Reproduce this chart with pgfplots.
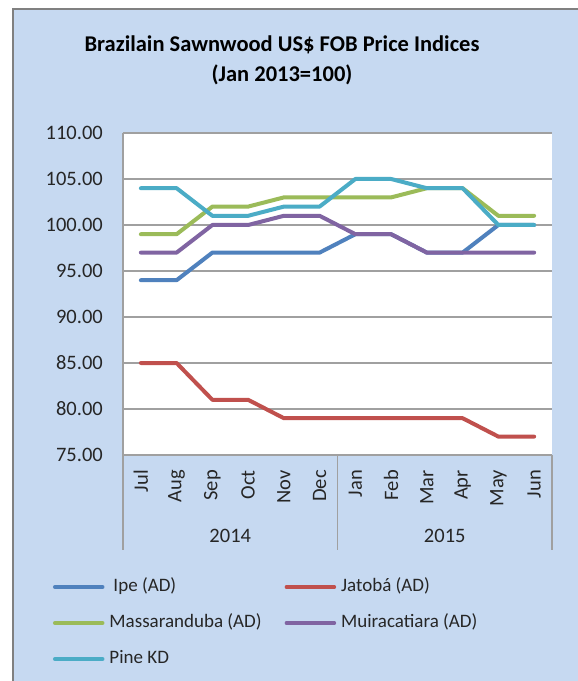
\documentclass[border=0pt]{standalone}
\usepackage{fontspec}
\setmainfont{Carlito}
\usepackage{pgfplots}
\pgfplotsset{compat=1.18}
\definecolor{bgblue}{RGB}{198,217,241}
\definecolor{ipe}{RGB}{79,129,189}
\definecolor{jatoba}{RGB}{192,80,77}
\definecolor{massa}{RGB}{155,187,89}
\definecolor{muira}{RGB}{128,100,162}
\definecolor{pine}{RGB}{75,172,198}
\definecolor{gridgray}{RGB}{160,160,160}
\definecolor{framegray}{RGB}{128,128,128}
\begin{document}
\begin{tikzpicture}[x=1pt,y=1pt]
\useasboundingbox (0,0) rectangle (578,681);
\fill[white] (0,0) rectangle (578,681);
\fill[bgblue] (13,0) rectangle (578,672);
\draw[framegray, line width=2pt] (13,0) -- (13,672) -- (578,672);
\node[align=center, font=\fontsize{22.5}{30}\selectfont\bfseries] at (282,621) {Brazilain Sawnwood US\$ FOB Price Indices\\(Jan 2013=100)};
\begin{axis}[
  at={(123pt,226pt)}, anchor=south west,
  scale only axis, width=429pt, height=322pt,
  xmin=-0.5, xmax=11.5, ymin=75, ymax=110,
  ytick={75,80,85,90,95,100,105,110},
  xtick={0,1,2,3,4,5,6,7,8,9,10,11},
  xticklabels={Jul,Aug,Sep,Oct,Nov,Dec,Jan,Feb,Mar,Apr,May,Jun},
  major tick length=0pt,
  axis background/.style={fill=white},
  axis x line*=bottom, axis y line*=left,
  axis line style={gridgray, line width=1.5pt, -},
  ymajorgrids, grid style={gridgray, line width=1.5pt},
  /pgf/number format/assume math mode=true,
  yticklabel={\pgfmathprintnumber[fixed,fixed zerofill,precision=2]{\tick}},
  tick label style={font=\fontsize{20.5}{24}\selectfont, text=black!85},
  yticklabel style={anchor=east, inner sep=0pt, xshift=-20pt},
  xticklabel style={rotate=90, anchor=east, inner sep=0pt, xshift=-15pt},
  legend columns=2,
  legend cell align=left,
  legend style={at={(axis description cs:-0.1632,-0.5217)}, anchor=west,
    draw=none, fill=none, inner sep=0pt, outer sep=0pt,
    font=\fontsize{19}{22}\selectfont, text=black!85,
    nodes={inner sep=0pt, text height=13pt, text depth=4pt},
    row sep=19pt, column sep=0pt,
    /tikz/every odd column/.append style={column sep=5pt},
    /tikz/every even column/.append style={column sep=23pt}},
  legend image code/.code={\draw[#1, line width=3.5pt, line cap=round] (0pt,0pt) -- (48pt,0pt);},
  every axis plot/.append style={line width=4pt, line join=round, line cap=round, mark=none},
  clip=false,
]
\addplot[ipe] coordinates {(0,94)(1,94)(2,97)(3,97)(4,97)(5,97)(6,99)(7,99)(8,97)(9,97)(10,100)(11,100)};
\addlegendentry{\hspace{4pt}Ipe (AD)}
\addplot[jatoba] coordinates {(0,85)(1,85)(2,81)(3,81)(4,79)(5,79)(6,79)(7,79)(8,79)(9,79)(10,77)(11,77)};
\addlegendentry{Jatobá (AD)}
\addplot[massa] coordinates {(0,99)(1,99)(2,102)(3,102)(4,103)(5,103)(6,103)(7,103)(8,104)(9,104)(10,101)(11,101)};
\addlegendentry{Massaranduba (AD)}
\addplot[muira] coordinates {(0,97)(1,97)(2,100)(3,100)(4,101)(5,101)(6,99)(7,99)(8,97)(9,97)(10,97)(11,97)};
\addlegendentry{Muiracatiara (AD)}
\addplot[pine] coordinates {(0,104)(1,104)(2,101)(3,101)(4,102)(5,102)(6,105)(7,105)(8,104)(9,104)(10,100)(11,100)};
\addlegendentry{Pine KD}
\draw[gridgray, line width=1.5pt] (axis cs:-0.5,75) -- (axis cs:-0.5,64.67);
\draw[gridgray, line width=1.5pt] (axis cs:5.5,75) -- (axis cs:5.5,64.67);
\draw[gridgray, line width=1.5pt] (axis cs:11.5,75) -- (axis cs:11.5,64.67);
\node[font=\fontsize{20.5}{24}\selectfont, text=black!85] at ([yshift=-81pt]axis cs:2.5,75) {2014};
\node[font=\fontsize{20.5}{24}\selectfont, text=black!85] at ([yshift=-81pt]axis cs:8.5,75) {2015};
\end{axis}
\end{tikzpicture}
\end{document}
